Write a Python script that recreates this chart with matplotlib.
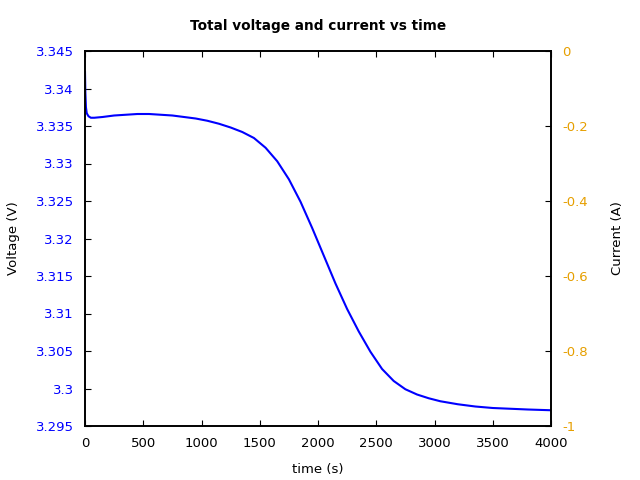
import matplotlib
matplotlib.use("Agg")
import matplotlib.pyplot as plt

# time (s) and total voltage (V)
time_s = [0, 3, 8, 15, 30, 50, 80, 150, 250, 350, 450, 550, 650, 750, 850,
          950, 1050, 1150, 1250, 1350, 1450, 1550, 1650, 1750, 1850, 1950,
          2050, 2150, 2250, 2350, 2450, 2550, 2650, 2750, 2850, 2950, 3050,
          3200, 3350, 3500, 3650, 3800, 4000]
voltage = [3.3422, 3.3395, 3.3375, 3.3367, 3.3363, 3.3361, 3.3361, 3.3362,
           3.3364, 3.3365, 3.3366, 3.3366, 3.3365, 3.3364, 3.3362, 3.3360,
           3.3357, 3.3353, 3.3348, 3.3342, 3.3334, 3.3321, 3.3303, 3.3279,
           3.3249, 3.3214, 3.3177, 3.3140, 3.3106, 3.3076, 3.3049, 3.3026,
           3.3010, 3.2999, 3.2992, 3.2987, 3.2983, 3.2979, 3.2976, 3.2974,
           3.2973, 3.2972, 3.2971]

v_ticks = [3.295, 3.3, 3.305, 3.31, 3.315, 3.32, 3.325, 3.33, 3.335, 3.34, 3.345]
v_labels = ["3.295", "3.3", "3.305", "3.31", "3.315", "3.32", "3.325",
            "3.33", "3.335", "3.34", "3.345"]
i_ticks = [-1, -0.8, -0.6, -0.4, -0.2, 0]
i_labels = ["-1", "-0.8", "-0.6", "-0.4", "-0.2", "0"]
t_ticks = [0, 500, 1000, 1500, 2000, 2500, 3000, 3500, 4000]

blue = "#0000ff"
orange = "#e69f00"
fs = 9.5

fig = plt.figure(figsize=(6.4, 4.8), dpi=100)
ax = fig.add_axes([85 / 640, 1 - 426 / 480, 466 / 640, 375 / 480])
ax.plot(time_s, voltage, color=blue, lw=1.5)
ax.set_xlim(0, 4000)
ax.set_ylim(3.295, 3.345)
ax.set_xticks(t_ticks)
ax.set_xticklabels([str(t) for t in t_ticks], fontsize=fs)
ax.set_yticks(v_ticks)
ax.set_yticklabels(v_labels, fontsize=fs, color=blue)
ax.tick_params(axis="x", direction="in", length=4, top=True, pad=8)
ax.tick_params(axis="y", direction="in", length=4, right=False, pad=8)
ax.set_xlabel("time (s)", fontsize=fs, labelpad=9)
ax.set_ylabel("Voltage (V)", fontsize=fs, labelpad=11)
ax.set_title("Total voltage and current vs time", fontsize=9.8,
             fontweight="bold", pad=15)

ax2 = ax.twinx()
ax2.set_ylim(-1, 0)
ax2.set_yticks(i_ticks)
ax2.set_yticklabels(i_labels, fontsize=fs, color=orange)
ax2.tick_params(axis="y", direction="in", length=4, pad=8)
ax2.set_ylabel("Current (A)", fontsize=fs, labelpad=17)

for a in (ax, ax2):
    for s in a.spines.values():
        s.set_linewidth(1.2)

fig.savefig("out.png", dpi=100)
